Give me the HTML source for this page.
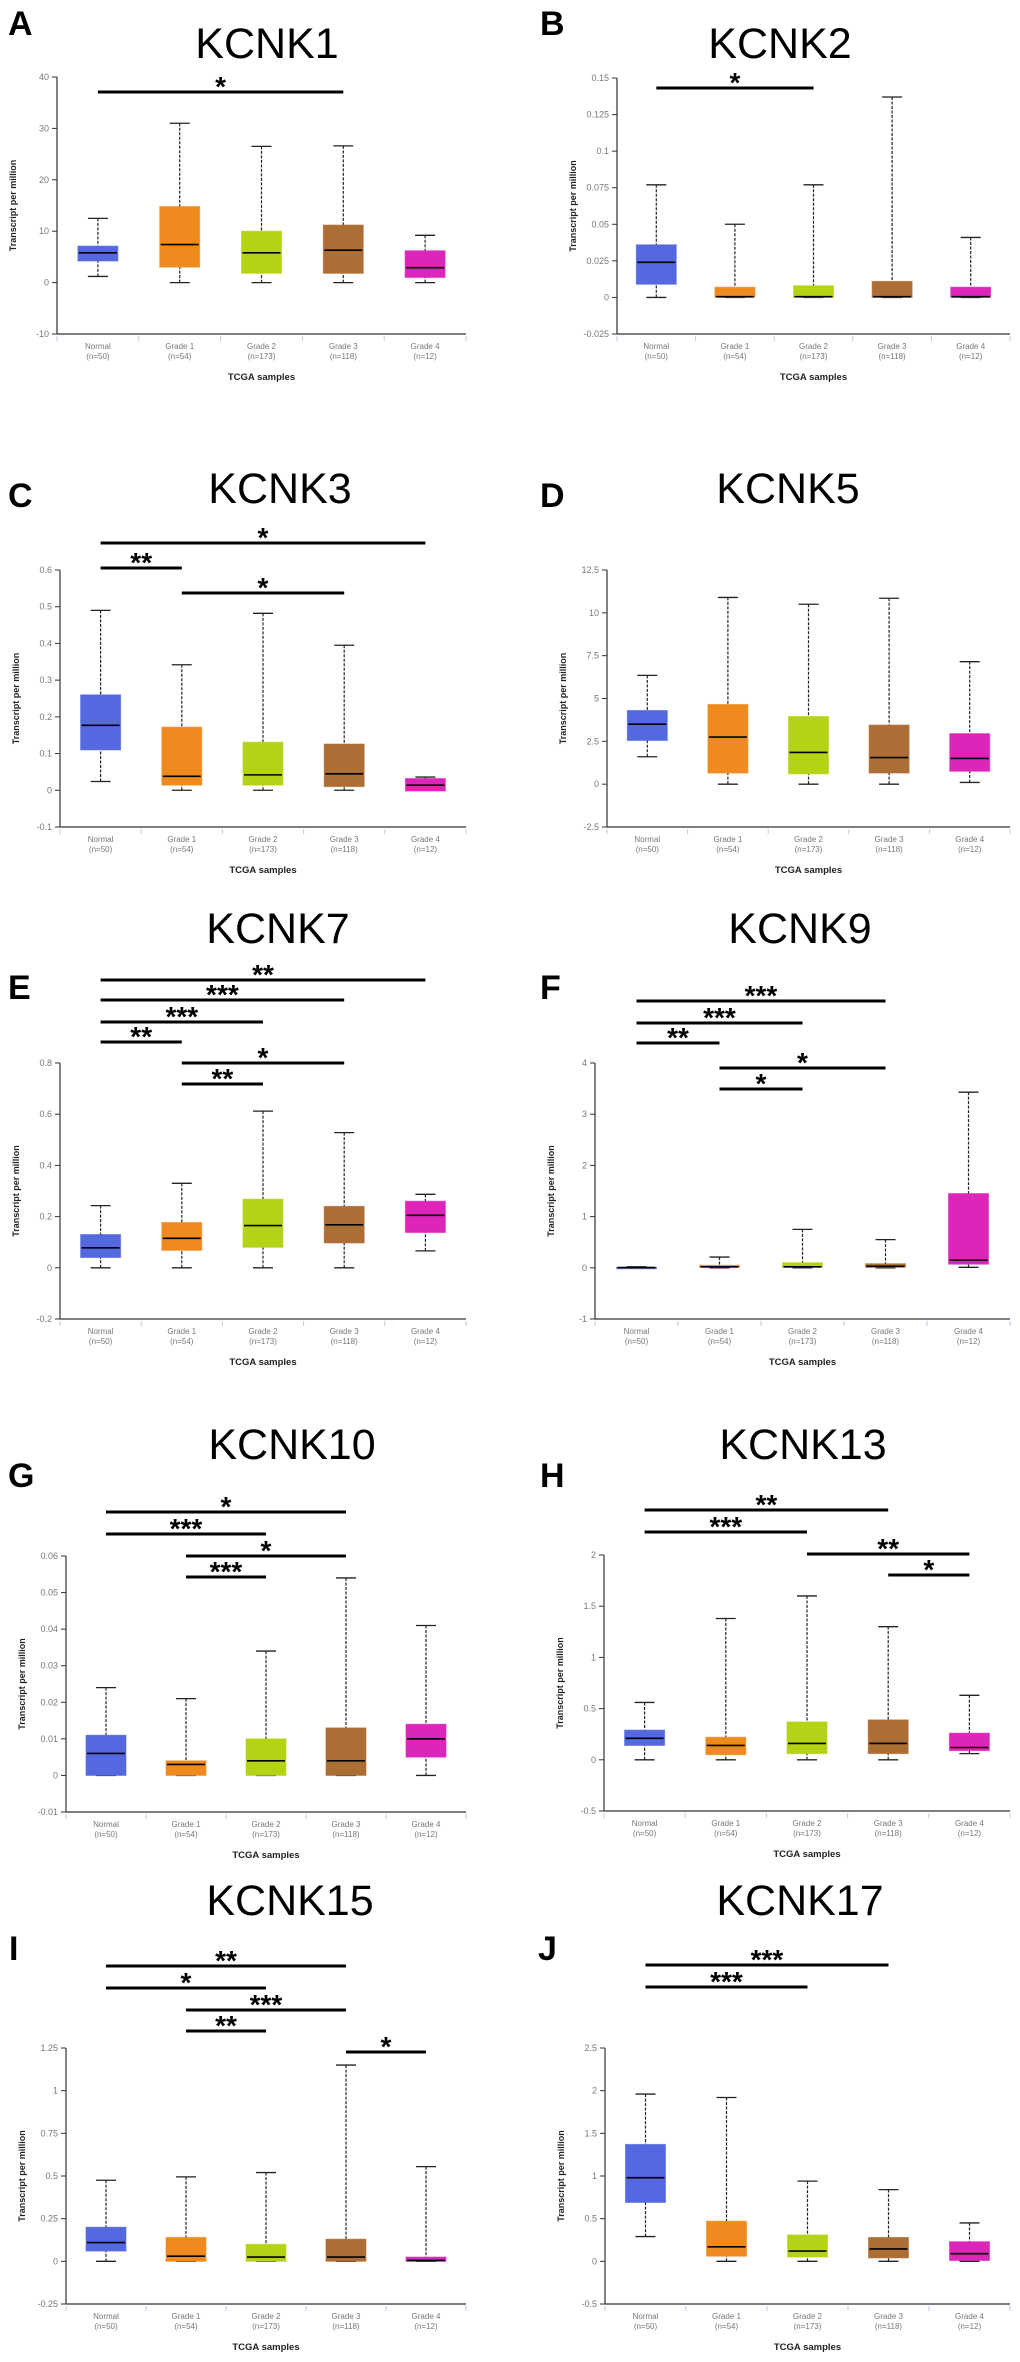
<!DOCTYPE html>
<html><head><meta charset="utf-8"><style>
html,body{margin:0;padding:0;background:#fff;}
svg{display:block;}
</style></head><body>
<svg id="fig" width="1020" height="2362" viewBox="0 0 1020 2362" xmlns="http://www.w3.org/2000/svg" font-family="Liberation Sans, Arial, sans-serif"></svg>
<script>
const categories = ["Normal","Grade 1","Grade 2","Grade 3","Grade 4"];
const sampleSizes = ["(n=50)","(n=54)","(n=173)","(n=118)","(n=12)"];
const boxColors = ["#5468e0","#ef8a1f","#b3d415","#ad6e36","#dc26b9"];

// stats per box: [min, q1, median, q3, max]
const statsKCNK1 = [[1.2,4.2,5.8,7.1,12.5],[0,3,7.4,14.8,31],[0,1.8,5.8,10,26.5],[0,1.8,6.3,11.2,26.6],[0,1,2.9,6.2,9.2]];
const statsKCNK2 = [[0,0.009,0.024,0.036,0.077],[0,0,0.0005,0.007,0.05],[0,0,0.0005,0.008,0.077],[0,0,0.0005,0.011,0.137],[0,0,0.0005,0.007,0.041]];
const statsKCNK3 = [[0.024,0.11,0.177,0.26,0.49],[0,0.014,0.038,0.172,0.342],[0,0.014,0.042,0.131,0.482],[0,0.01,0.045,0.126,0.395],[0.03,-0.002,0.014,0.032,0.036]];
const statsKCNK5 = [[1.6,2.55,3.5,4.3,6.35],[0,0.65,2.75,4.65,10.9],[0,0.6,1.85,3.95,10.5],[0,0.65,1.55,3.45,10.85],[0.1,0.75,1.5,2.95,7.15]];
const statsKCNK7 = [[0,0.04,0.078,0.13,0.243],[0,0.068,0.115,0.177,0.33],[0,0.08,0.165,0.268,0.612],[0,0.097,0.168,0.24,0.528],[0.066,0.138,0.205,0.26,0.287]];
const statsKCNK9 = [[0,0,0.005,0.01,0.02],[0,0.01,0.02,0.05,0.21],[0,0.01,0.02,0.1,0.75],[0,0.01,0.03,0.08,0.55],[0.01,0.07,0.15,1.45,3.43]];
const statsKCNK10 = [[0,0,0.006,0.011,0.024],[0,0,0.003,0.004,0.021],[0,0,0.004,0.01,0.034],[0,0,0.004,0.013,0.054],[0,0.005,0.01,0.014,0.041]];
const statsKCNK13 = [[0,0.14,0.21,0.29,0.56],[0,0.05,0.14,0.22,1.38],[0,0.06,0.16,0.37,1.6],[0,0.06,0.16,0.39,1.3],[0.06,0.09,0.12,0.26,0.63]];
const statsKCNK15 = [[0,0.06,0.11,0.2,0.475],[0,0,0.03,0.14,0.495],[0,0,0.025,0.1,0.52],[0,0,0.025,0.13,1.15],[0,0,0.005,0.025,0.555]];
const statsKCNK17 = [[0.29,0.69,0.98,1.37,1.96],[0,0.06,0.17,0.47,1.92],[0,0.05,0.12,0.31,0.94],[0,0.04,0.145,0.28,0.84],[0,0.01,0.09,0.23,0.45]];

const ticksKCNK1 = [-10,0,10,20,30,40];
const tickLabelsKCNK1 = ["-10","0","10","20","30","40"];
const ticksKCNK2 = [-0.025,0,0.025,0.05,0.075,0.1,0.125,0.15];
const tickLabelsKCNK2 = ["-0.025","0","0.025","0.05","0.075","0.1","0.125","0.15"];
const ticksKCNK3 = [-0.1,0,0.1,0.2,0.3,0.4,0.5,0.6];
const tickLabelsKCNK3 = ["-0.1","0","0.1","0.2","0.3","0.4","0.5","0.6"];
const ticksKCNK5 = [-2.5,0,2.5,5,7.5,10,12.5];
const tickLabelsKCNK5 = ["-2.5","0","2.5","5","7.5","10","12.5"];
const ticksKCNK7 = [-0.2,0,0.2,0.4,0.6,0.8];
const tickLabelsKCNK7 = ["-0.2","0","0.2","0.4","0.6","0.8"];
const ticksKCNK9 = [-1,0,1,2,3,4];
const tickLabelsKCNK9 = ["-1","0","1","2","3","4"];
const ticksKCNK10 = [-0.01,0,0.01,0.02,0.03,0.04,0.05,0.06];
const tickLabelsKCNK10 = ["-0.01","0","0.01","0.02","0.03","0.04","0.05","0.06"];
const ticksKCNK13 = [-0.5,0,0.5,1,1.5,2];
const tickLabelsKCNK13 = ["-0.5","0","0.5","1","1.5","2"];
const ticksKCNK15 = [-0.25,0,0.25,0.5,0.75,1,1.25];
const tickLabelsKCNK15 = ["-0.25","0","0.25","0.5","0.75","1","1.25"];
const ticksKCNK17 = [-0.5,0,0.5,1,1.5,2,2.5];
const tickLabelsKCNK17 = ["-0.5","0","0.5","1","1.5","2","2.5"];

// significance comparisons: [from category, to category, stars]
const sigKCNK1 = [[0,3,"*"]];
const sigKCNK2 = [[0,2,"*"]];
const sigKCNK3 = [[0,4,"*"],[0,1,"**"],[1,3,"*"]];
const sigKCNK5 = [];
const sigKCNK7 = [[0,4,"**"],[0,3,"***"],[0,2,"***"],[0,1,"**"],[1,3,"*"],[1,2,"**"]];
const sigKCNK9 = [[0,3,"***"],[0,2,"***"],[0,1,"**"],[1,3,"*"],[1,2,"*"]];
const sigKCNK10 = [[0,3,"*"],[0,2,"***"],[1,3,"*"],[1,2,"***"]];
const sigKCNK13 = [[0,3,"**"],[0,2,"***"],[2,4,"**"],[3,4,"*"]];
const sigKCNK15 = [[0,3,"**"],[0,2,"*"],[1,3,"***"],[1,2,"**"],[3,4,"*"]];
const sigKCNK17 = [[0,3,"***"],[0,2,"***"]];

// layout (pixels)
const panels = [
 {id:"a",letter:"A",title:"KCNK1",stats:statsKCNK1,ticks:ticksKCNK1,tl:tickLabelsKCNK1,sig:sigKCNK1,ax:57,xr:466,yt:77,yb:334,tx:267,ty:58,lx:8,ly:35,sy:[92]},
 {id:"b",letter:"B",title:"KCNK2",stats:statsKCNK2,ticks:ticksKCNK2,tl:tickLabelsKCNK2,sig:sigKCNK2,ax:617,xr:1010,yt:78,yb:334,tx:780,ty:58,lx:540,ly:35,sy:[88]},
 {id:"c",letter:"C",title:"KCNK3",stats:statsKCNK3,ticks:ticksKCNK3,tl:tickLabelsKCNK3,sig:sigKCNK3,ax:60,xr:466,yt:570,yb:827,tx:280,ty:503,lx:8,ly:507,sy:[543,568,593]},
 {id:"d",letter:"D",title:"KCNK5",stats:statsKCNK5,ticks:ticksKCNK5,tl:tickLabelsKCNK5,sig:sigKCNK5,ax:607,xr:1010,yt:570,yb:827,tx:788,ty:503,lx:540,ly:507,sy:[]},
 {id:"e",letter:"E",title:"KCNK7",stats:statsKCNK7,ticks:ticksKCNK7,tl:tickLabelsKCNK7,sig:sigKCNK7,ax:60,xr:466,yt:1063,yb:1319,tx:278,ty:943,lx:8,ly:999,sy:[980,1000,1022,1042,1063,1084]},
 {id:"f",letter:"F",title:"KCNK9",stats:statsKCNK9,ticks:ticksKCNK9,tl:tickLabelsKCNK9,sig:sigKCNK9,ax:595,xr:1010,yt:1063,yb:1319,tx:800,ty:943,lx:540,ly:999,sy:[1001,1023,1043,1068,1089]},
 {id:"g",letter:"G",title:"KCNK10",stats:statsKCNK10,ticks:ticksKCNK10,tl:tickLabelsKCNK10,sig:sigKCNK10,ax:66,xr:466,yt:1556,yb:1812,tx:292,ty:1459,lx:8,ly:1487,sy:[1512,1534,1556,1577]},
 {id:"h",letter:"H",title:"KCNK13",stats:statsKCNK13,ticks:ticksKCNK13,tl:tickLabelsKCNK13,sig:sigKCNK13,ax:604,xr:1010,yt:1555,yb:1811,tx:803,ty:1459,lx:540,ly:1487,sy:[1510,1532,1554,1575]},
 {id:"i",letter:"I",title:"KCNK15",stats:statsKCNK15,ticks:ticksKCNK15,tl:tickLabelsKCNK15,sig:sigKCNK15,ax:66,xr:466,yt:2048,yb:2304,tx:290,ty:1915,lx:9,ly:1960,sy:[1966,1988,2010,2031,2052]},
 {id:"j",letter:"J",title:"KCNK17",stats:statsKCNK17,ticks:ticksKCNK17,tl:tickLabelsKCNK17,sig:sigKCNK17,ax:605,xr:1010,yt:2048,yb:2304,tx:800,ty:1915,lx:538,ly:1960,sy:[1965,1987]}
];

const NS = "http://www.w3.org/2000/svg";
const svg = document.getElementById("fig");
function mk(tag, attrs, parent, text){
  const e = document.createElementNS(NS, tag);
  for (const k in attrs) e.setAttribute(k, attrs[k]);
  if (text !== undefined) e.textContent = text;
  (parent || svg).appendChild(e);
  return e;
}

panels.forEach(p => {
  const g = mk("g", {});
  
  
  const vmin = p.ticks[0], vmax = p.ticks[p.ticks.length-1];
  const y = v => p.yb - (v - vmin) / (vmax - vmin) * (p.yb - p.yt);
  const band = (p.xr - p.ax) / 5;
  const x = i => p.ax + (i + 0.5) * band;

  const letter = mk("text", {x:p.lx, y:p.ly, "font-size":34, "font-weight":"bold", fill:"#000"}, g, p.letter);
  
  
  const title = mk("text", {x:p.tx, y:p.ty, "font-size":43, "text-anchor":"middle", fill:"#000"}, g, p.title);
  
  

  // y axis
  const yAxis = mk("line", {x1:p.ax, y1:p.yt, x2:p.ax, y2:p.yb, stroke:"#333", "stroke-width":1.2}, g);
  
  
  p.ticks.forEach((t, k) => {
    const ty = y(t);
    mk("line", {x1:p.ax-5, y1:ty, x2:p.ax, y2:ty, stroke:"#333", "stroke-width":1}, g);
    const tl = mk("text", {x:p.ax-8, y:ty+3, "font-size":9, "text-anchor":"end", fill:"#777"}, g, p.tl[k]);
    
    
  });
  const yt = mk("text", {x:0, y:0, "font-size":9, "font-weight":"bold", "text-anchor":"middle", fill:"#222",
    transform:`translate(${p.ax-41},${(p.yt+p.yb)/2}) rotate(-90)`}, g, "Transcript per million");
  
  

  // x axis
  const xAxis = mk("line", {x1:p.ax, y1:p.yb, x2:p.xr, y2:p.yb, stroke:"#333", "stroke-width":1.2}, g);
  
  
  for (let i = 0; i <= 5; i++) {
    mk("line", {x1:p.ax+i*band, y1:p.yb+2, x2:p.ax+i*band, y2:p.yb+7, stroke:"#b8cde6", "stroke-width":1}, g);
  }
  categories.forEach((c, i) => {
    const l1 = mk("text", {x:x(i), y:p.yb+15, "font-size":8, "text-anchor":"middle", fill:"#777"}, g, c);
    
    
    const l2 = mk("text", {x:x(i), y:p.yb+25, "font-size":8, "text-anchor":"middle", fill:"#777"}, g, sampleSizes[i]);
    
    
  });
  const xt = mk("text", {x:(p.ax+p.xr)/2, y:p.yb+46, "font-size":9.5, "font-weight":"bold", "text-anchor":"middle", fill:"#222"}, g, "TCGA samples");
  
  

  // boxes
  p.stats.forEach((s, i) => {
    const cx = x(i), bw = 40, cw = 20;
    const bg = mk("g", {}, g);
    
    
    const lo = Math.min(s[1], s[3]), hi = Math.max(s[1], s[3]);
    mk("line", {x1:cx, y1:y(s[4]), x2:cx, y2:y(hi), stroke:"#222", "stroke-width":1.2, "stroke-dasharray":"3,1.5"}, bg);
    mk("line", {x1:cx, y1:y(s[0]), x2:cx, y2:y(lo), stroke:"#222", "stroke-width":1.2, "stroke-dasharray":"3,1.5"}, bg);
    mk("line", {x1:cx-cw/2, y1:y(s[4]), x2:cx+cw/2, y2:y(s[4]), stroke:"#222", "stroke-width":1.3}, bg);
    mk("line", {x1:cx-cw/2, y1:y(s[0]), x2:cx+cw/2, y2:y(s[0]), stroke:"#222", "stroke-width":1.3}, bg);
    const h = Math.max(y(lo) - y(hi), 1.5);
    mk("rect", {x:cx-bw/2, y:y(hi), width:bw, height:h, fill:boxColors[i], stroke:boxColors[i], "stroke-opacity":0.6}, bg);
    mk("line", {x1:cx-bw/2+1, y1:y(s[2]), x2:cx+bw/2-1, y2:y(s[2]), stroke:"#000", "stroke-width":1.6}, bg);
  });

  // significance bars
  p.sig.forEach((c, k) => {
    const sy = p.sy[k];
    const sg = mk("g", {}, g);
    
    
    mk("line", {x1:x(c[0]), y1:sy, x2:x(c[1]), y2:sy, stroke:"#000", "stroke-width":3}, sg);
    mk("text", {x:(x(c[0])+x(c[1]))/2, y:sy+4, "font-size":28, "font-weight":"bold", "text-anchor":"middle", fill:"#000"}, sg, c[2]);
  });
});
</script>
</body></html>
